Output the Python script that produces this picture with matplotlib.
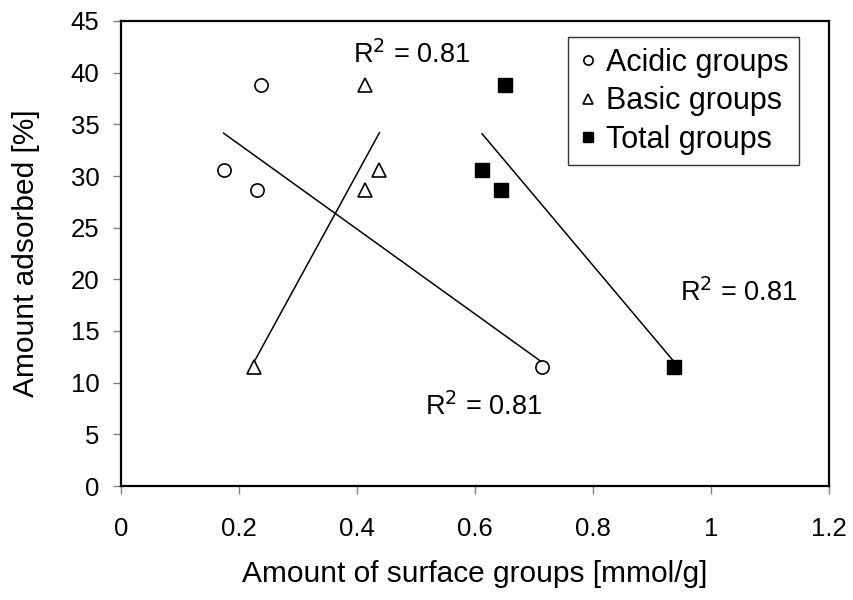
import numpy as np
import matplotlib
matplotlib.use("Agg")
import matplotlib.pyplot as plt

plt.rcParams['font.family'] = ['Liberation Sans', 'DejaVu Sans']

adsorbed = [38.8, 30.6, 28.6, 11.5]
acidic_x = [0.237, 0.174, 0.231, 0.713]
basic_x = [0.414, 0.438, 0.414, 0.225]
total_x = [0.651, 0.612, 0.644, 0.937]
r2_labels = ["R$^2$ = 0.81", "R$^2$ = 0.81", "R$^2$ = 0.81"]

xticks = [0, 0.2, 0.4, 0.6, 0.8, 1, 1.2]
xticklabels = ["0", "0.2", "0.4", "0.6", "0.8", "1", "1.2"]
yticks = list(range(0, 50, 5))

fig = plt.figure(figsize=(8.54, 6.0), dpi=100)
ax = fig.add_axes([0.1417, 0.19, 0.829, 0.775])

def trend(xs, ys):
    xs = np.asarray(xs); ys = np.asarray(ys)
    m, b = np.polyfit(xs, ys, 1)
    xx = np.array([xs.min(), xs.max()])
    ax.plot(xx, m * xx + b, color='black', lw=1.1, zorder=2)

trend(acidic_x, adsorbed)
trend(basic_x, adsorbed)
trend(total_x, adsorbed)

ax.plot(acidic_x, adsorbed, 'o', ls='none', ms=9.5, mfc='white', mec='black', mew=1.2,
        label='Acidic groups', zorder=3)
ax.plot(basic_x, adsorbed, '^', ls='none', ms=10, mfc='white', mec='black', mew=1.2,
        label='Basic groups', zorder=3)
ax.plot(total_x, adsorbed, 's', ls='none', ms=10, mfc='black', mec='black',
        label='Total groups', zorder=3)

r2_fs = 19.5
ax.text(0.393, 41.7, r2_labels[0], fontsize=r2_fs, va='center', ha='left')
ax.text(0.515, 7.7, r2_labels[1], fontsize=r2_fs, va='center', ha='left')
ax.text(0.947, 18.7, r2_labels[2], fontsize=r2_fs, va='center', ha='left')

ax.set_xlim(0, 1.2)
ax.set_ylim(0, 45)
ax.set_xticks(xticks)
ax.set_xticklabels(xticklabels)
ax.set_yticks(yticks)
ax.tick_params(direction='out', length=6, width=1, labelsize=18.5, color='#808080')
ax.tick_params(axis='x', pad=16)
ax.tick_params(axis='y', pad=9.5)
for s in ax.spines.values():
    s.set_linewidth(1.6)
    s.set_color('black')

ax.set_xlabel("Amount of surface groups [mmol/g]", fontsize=21.5, labelpad=14)
ax.set_ylabel("Amount adsorbed [%]", fontsize=21.5, labelpad=22)

leg = ax.legend(loc='upper right', bbox_to_anchor=(0.958, 0.9656), fontsize=22,
                markerscale=0.7, handlelength=0.6, handletextpad=0.3,
                labelspacing=0.28, borderpad=0.35, borderaxespad=0, fancybox=False,
                framealpha=1, edgecolor='#333333')
leg.get_frame().set_linewidth(1.0)

fig.savefig("out.png", dpi=100)
